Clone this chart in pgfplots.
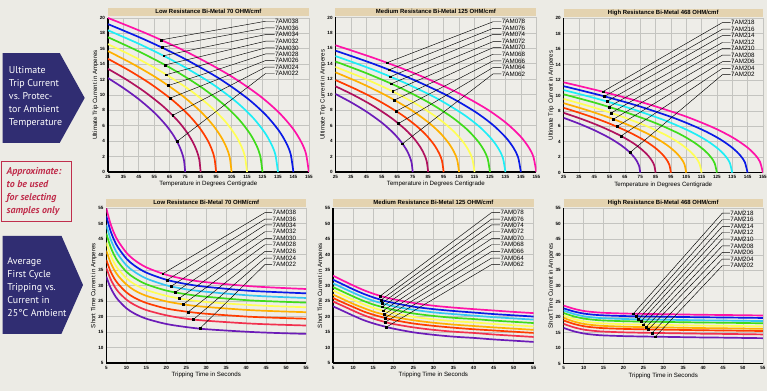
\documentclass[border=0pt]{standalone}
\usepackage{pgfplots}
\pgfplotsset{compat=1.18}
\usepackage{pgfplotstable}
\usepackage{fontspec}
\setmainfont{Liberation Sans}
\newfontfamily\ptsans{PT Sans}
\definecolor{bg}{HTML}{ECEBE5}
\definecolor{plotbg}{HTML}{EEEDE8}
\definecolor{gridc}{HTML}{C4C4C0}
\definecolor{titlebar}{HTML}{E4D3B0}
\definecolor{navy}{HTML}{302D72}
\definecolor{crim}{HTML}{C02E4C}
\definecolor{cM}{HTML}{FF12A8}
\definecolor{cB}{HTML}{0A1AE6}
\definecolor{cC}{HTML}{1EEEF6}
\definecolor{cCb}{HTML}{36C6F2}
\definecolor{cG}{HTML}{3EDC1A}
\definecolor{cY}{HTML}{FFFF55}
\definecolor{cO}{HTML}{FFB000}
\definecolor{cR}{HTML}{FF3C00}
\definecolor{cMr}{HTML}{B0125E}
\definecolor{cMrb}{HTML}{F2304E}
\definecolor{cP}{HTML}{6C1CB8}

\pgfplotstableread{
tP iP tMr iMr tR iR tO iO tY iY tG iG tC iC tB iB tM iM
25 12.2 25 13.4 25 14.7 25 15.7 25 16.6 25 17.5 25 18.4 25 19.2 25 20.0
35 10.91 37 11.99 39 13.15 41 14.04 43 14.85 45 15.65 47 16.46 49 17.17 51 17.89
45 9.45 49 10.38 53 11.39 57 12.16 61 12.86 65 13.56 69 14.25 73 14.87 77 15.49
55 7.72 61 8.48 67 9.30 73 9.93 79 10.50 85 11.07 91 11.64 97 12.14 103 12.65
62.5 6.10 70 6.70 77.5 7.35 85 7.85 92.5 8.30 100 8.75 107.5 9.20 115 9.60 122.5 10.0
67.5 4.73 76 5.19 84.5 5.69 93 6.08 101.5 6.43 110 6.78 118.5 7.13 127 7.44 135.5 7.75
71 3.45 80.2 3.79 89.4 4.16 98.6 4.44 107.8 4.69 117 4.95 126.2 5.20 135.4 5.43 144.6 5.66
73 2.44 82.6 2.68 92.2 2.94 101.8 3.14 111.4 3.32 121 3.50 130.6 3.68 140.2 3.84 149.8 4.00
74.25 1.49 84.1 1.64 93.95 1.80 103.8 1.92 113.65 2.03 123.5 2.14 133.35 2.25 143.2 2.35 153.05 2.45
75 0 85 0 95 0 105 0 115 0 125 0 135 0 145 0 155 0
}\TL
\pgfplotstableread{
tP iP tMr iMr tR iR tO iO tY iY tG iG tC iC tB iB tM iM
25 10.1 25 11.1 25 11.9 25 12.9 25 13.6 25 14.3 25 15.0 25 15.7 25 16.4
35 9.03 37 9.93 39 10.64 41 11.54 43 12.16 45 12.79 47 13.42 49 14.04 51 14.67
45 7.82 49 8.60 53 9.22 57 9.99 61 10.53 65 11.08 69 11.62 73 12.16 77 12.70
55 6.39 61 7.02 67 7.53 73 8.16 79 8.60 85 9.04 91 9.49 97 9.93 103 10.37
62.5 5.05 70 5.55 77.5 5.95 85 6.45 92.5 6.80 100 7.15 107.5 7.50 115 7.85 122.5 8.20
67.5 3.91 76 4.30 84.5 4.61 93 5.00 101.5 5.27 110 5.54 118.5 5.81 127 6.08 135.5 6.35
71 2.86 80.2 3.14 89.4 3.37 98.6 3.65 107.8 3.85 117 4.04 126.2 4.24 135.4 4.44 144.6 4.64
73 2.02 82.6 2.22 92.2 2.38 101.8 2.58 111.4 2.72 121 2.86 130.6 3.00 140.2 3.14 149.8 3.28
74.25 1.24 84.1 1.36 93.95 1.46 103.8 1.58 113.65 1.67 123.5 1.75 133.35 1.84 143.2 1.92 153.05 2.01
75 0 85 0 95 0 105 0 115 0 125 0 135 0 145 0 155 0
}\TM
\pgfplotstableread{
tP iP tMr iMr tR iR tO iO tY iY tG iG tC iC tB iB tM iM
25 7.1 25 7.75 25 8.4 25 9.0 25 9.55 25 10.15 25 10.7 25 11.2 25 11.7
35 6.35 37 6.93 39 7.51 41 8.05 43 8.54 45 9.08 47 9.57 49 10.02 51 10.46
45 5.50 49 6.00 53 6.51 57 6.97 61 7.40 65 7.86 69 8.29 73 8.68 77 9.06
55 4.49 61 4.90 67 5.31 73 5.69 79 6.04 85 6.42 91 6.77 97 7.08 103 7.40
62.5 3.55 70 3.88 77.5 4.20 85 4.50 92.5 4.78 100 5.08 107.5 5.35 115 5.60 122.5 5.85
67.5 2.75 76 3.00 84.5 3.25 93 3.49 101.5 3.70 110 3.93 118.5 4.14 127 4.34 135.5 4.53
71 2.01 80.2 2.19 89.4 2.38 98.6 2.55 107.8 2.70 117 2.87 126.2 3.03 135.4 3.17 144.6 3.31
73 1.42 82.6 1.55 92.2 1.68 101.8 1.80 111.4 1.91 121 2.03 130.6 2.14 140.2 2.24 149.8 2.34
74.25 0.87 84.1 0.95 93.95 1.03 103.8 1.10 113.65 1.17 123.5 1.24 133.35 1.31 143.2 1.37 153.05 1.43
75 0 85 0 95 0 105 0 115 0 125 0 135 0 145 0 155 0
}\TR
\pgfplotstableread{
t M B C G Y O R Mr P
5 55.0 52.5 49.6 46.8 43.9 41.3 38.3 35.7 32.9
6 50.2 47.9 45.3 42.7 40.1 37.65 34.8 32.3 29.5
7 46.8 44.6 42.2 39.8 37.3 35.05 32.3 29.85 27.1
8 44.3 42.2 39.9 37.6 35.3 33.1 30.5 28.0 25.3
10 40.7 38.75 36.6 34.5 32.4 30.4 27.85 25.5 22.7
12 38.3 36.5 34.5 32.5 30.5 28.5 26.1 23.8 21.0
15 35.9 34.2 32.3 30.45 28.6 26.7 24.4 22.1 19.3
20 33.5 31.9 30.1 28.4 26.7 24.9 22.6 20.4 17.6
25 32.0 30.5 28.8 27.2 25.5 23.8 21.6 19.3 16.6
30 31.1 29.6 28.0 26.4 24.7 23.1 20.9 18.65 15.9
40 29.9 28.4 26.9 25.3 23.8 22.15 20.0 17.8 15.1
47 29.36 27.93 26.4 24.88 23.36 21.74 19.62 17.42 14.71
55 28.9 27.5 26.0 24.5 23.0 21.4 19.3 17.1 14.4
}\BL
\pgfplotstableread{
t M B C G Y O R Mr P
5 33.2 31.9 30.75 29.5 28.4 27.1 26.0 24.85 23.3
7.5 31.6 30.35 29.2 28.0 26.9 25.6 24.5 23.4 21.8
10 30.05 28.8 27.7 26.5 25.4 24.1 23.1 21.9 20.3
12.5 28.6 27.4 26.3 25.1 24.0 22.8 21.7 20.5 18.9
15 27.4 26.2 25.1 23.9 22.8 21.6 20.6 19.35 17.8
17.5 26.4 25.2 24.2 23.0 21.9 20.7 19.7 18.4 16.9
20 25.6 24.4 23.35 22.2 21.1 19.9 18.9 17.6 16.1
25 24.4 23.2 22.2 21.0 19.9 18.8 17.75 16.5 14.9
30 23.5 22.4 21.35 20.2 19.1 18.0 17.0 15.7 14.1
35 22.9 21.8 20.8 19.6 18.5 17.4 16.4 15.1 13.5
40 22.4 21.3 20.3 19.2 18.1 16.95 15.9 14.7 13.1
45 21.95 20.8 19.8 18.7 17.6 16.5 15.5 14.2 12.6
50 21.5 20.4 19.4 18.3 17.2 16.1 15.1 13.8 12.2
55 21.1 20.0 19.0 17.9 16.8 15.7 14.7 13.4 11.8
}\BM
\pgfplotstableread{
t M B C G Y O R Mr P
5 23.7 22.8 22.1 21.3 20.5 19.7 18.9 17.8 16.5
7.5 22.68 21.81 21.01 20.24 19.38 18.58 17.81 16.71 15.44
10 21.97 21.13 20.26 19.52 18.61 17.81 17.06 15.96 14.72
12.5 21.59 20.75 19.86 19.12 18.19 17.39 16.66 15.56 14.32
15 21.36 20.54 19.62 18.89 17.95 17.15 16.42 15.32 14.09
20 21.14 20.32 19.38 18.66 17.7 16.9 16.18 15.08 13.86
25 21.01 20.2 19.24 18.53 17.56 16.76 16.04 14.94 13.73
30 20.92 20.1 19.14 18.43 17.46 16.66 15.94 14.84 13.63
35 20.82 20.01 19.04 18.33 17.35 16.55 15.84 14.74 13.53
40 20.72 19.92 18.94 18.23 17.25 16.45 15.74 14.64 13.43
45 20.66 19.86 18.87 18.17 17.18 16.38 15.67 14.57 13.37
50 20.58 19.78 18.79 18.08 17.09 16.29 15.59 14.49 13.28
55 20.5 19.7 18.7 18.0 17.0 16.2 15.5 14.4 13.2
}\BR

\tikzset{lbl/.style={anchor=west, inner sep=0.3bp, font=\fontsize{6.3}{7}\selectfont}}
\pgfplotsset{
 panel/.style={
   scale only axis, anchor=south west,
   axis background/.style={fill=plotbg},
   axis x line*=bottom, axis y line*=left,
   axis line style={black, line width=1.2bp},
   grid=major, major grid style={gridc, line width=0.7bp},
   major tick length=0pt,
   /pgf/number format/assume math mode=true,
   tick label style={font=\fontsize{4.6}{5}\selectfont\bfseries},
   xticklabel style={yshift=0.6bp},
   yticklabel style={xshift=0.6bp},
   every axis x label/.style={at={(rel axis cs:0.5,0)}, yshift=-12bp, anchor=center, font=\fontsize{6.2}{7}\selectfont},
   every axis y label/.style={at={(rel axis cs:0,0.5)}, xshift=-12.5bp, rotate=90, anchor=center, font=\fontsize{6.2}{7}\selectfont},
   every axis title/.style={at={(rel axis cs:0.5,1)}, anchor=south, yshift=1.5bp, fill=titlebar, minimum height=8bp, inner sep=0pt, text height=4.4bp, text depth=0.9bp, font=\fontsize{6}{6}\selectfont\bfseries},
 },
 curve/.style={line width=1.7bp, smooth, no marks},
 leadl/.style={black, line width=0.45bp, sharp plot, no marks},
 toprow/.style={panel, xmin=25, xmax=155, ymin=0, ymax=20, xtick={25,35,...,155}, ytick={0,2,...,20}, xlabel={Temperature in Degrees Centigrade}, ylabel={Ultimate Trip Current in Amperes}},
 botrow/.style={panel, xmin=5, xmax=55, ymin=5, ymax=55, xtick={5,10,...,55}, ytick={5,10,...,55}, xlabel={Tripping Time in Seconds}, ylabel={Short Time Current in Amperes}},
}
\newcommand\topcurves[1]{%
 \addplot[curve,cP] table[x=tP,y=iP]{#1};
 \addplot[curve,cMr] table[x=tMr,y=iMr]{#1};
 \addplot[curve,cR] table[x=tR,y=iR]{#1};
 \addplot[curve,cO] table[x=tO,y=iO]{#1};
 \addplot[curve,cY] table[x=tY,y=iY]{#1};
 \addplot[curve,cG] table[x=tG,y=iG]{#1};
 \addplot[curve,cC] table[x=tC,y=iC]{#1};
 \addplot[curve,cB] table[x=tB,y=iB]{#1};
 \addplot[curve,cM] table[x=tM,y=iM]{#1};
}
\newcommand\botcurves[1]{%
 \addplot[curve,cP] table[x=t,y=P]{#1};
 \addplot[curve,cMrb] table[x=t,y=Mr]{#1};
 \addplot[curve,cR] table[x=t,y=R]{#1};
 \addplot[curve,cO] table[x=t,y=O]{#1};
 \addplot[curve,cY] table[x=t,y=Y]{#1};
 \addplot[curve,cG] table[x=t,y=G]{#1};
 \addplot[curve,cCb] table[x=t,y=C]{#1};
 \addplot[curve,cB] table[x=t,y=B]{#1};
 \addplot[curve,cM] table[x=t,y=M]{#1};
}
% dot x, dot y, stub start x, label y, stub end x, label
\newcommand\lead[6]{%
 \addplot[leadl] coordinates {(#1,#2) (#3,#4) (#5,#4)};
 \addplot[only marks, mark=square*, mark size=0.9bp, black] coordinates {(#1,#2)};
 \node[lbl] at (axis cs:#5,#4) {#6};
}

\begin{document}
\begin{tikzpicture}
\fill[bg] (0bp,0bp) rectangle (770bp,392bp);
% left panels
\fill[navy] (2.7bp,338.7bp) -- (60bp,338.7bp) -- (85bp,293.7bp) -- (60bp,248.7bp) -- (2.7bp,248.7bp) -- cycle;
\node[anchor=west, align=left, text=white, font=\ptsans\fontsize{10}{13.1}\selectfont, inner sep=0pt] at (8.8bp,294.5bp) {Ultimate\\Trip Current\\vs.\ Protec-\\tor Ambient\\Temperature};
\draw[crim, line width=1bp, fill=bg] (1.7bp,230.3bp) rectangle (71.7bp,170bp);
\node[anchor=west, align=left, text=crim, font=\ptsans\bfseries\itshape\fontsize{10}{13.1}\selectfont, inner sep=0pt] at (6.5bp,199.6bp) {Approximate:\\to be used\\for selecting\\samples only};
\fill[navy] (2.7bp,155.3bp) -- (61.7bp,155.3bp) -- (83.3bp,106bp) -- (61.7bp,57bp) -- (2.7bp,57bp) -- cycle;
\node[anchor=west, align=left, text=white, font=\ptsans\fontsize{10}{13.1}\selectfont, inner sep=0pt] at (7.3bp,104bp) {Average\\First Cycle\\Tripping vs.\\Current in\\25°C Ambient};

% ---------- top left
\begin{axis}[toprow, at={(108.3bp,219.3bp)}, width=201.7bp, height=154.7bp,
  title={Low Resistance Bi-Metal 70 OHM/cmf}, title style={minimum width=201.7bp}]
\topcurves{\TL}
\lead{59.4}{17.15}{127}{19.57}{132.9}{7AM038}
\lead{60.0}{16.2}{127}{18.70}{132.9}{7AM036}
\lead{61.1}{15.1}{127}{17.84}{132.9}{7AM034}
\lead{61.9}{13.9}{127}{16.98}{132.9}{7AM032}
\lead{62.8}{12.64}{127}{16.11}{132.9}{7AM030}
\lead{64.1}{11.23}{127}{15.33}{132.9}{7AM028}
\lead{65.2}{9.59}{127}{14.47}{132.9}{7AM026}
\lead{66.9}{7.36}{127}{13.61}{132.9}{7AM024}
\lead{69.7}{3.97}{127}{12.79}{132.9}{7AM022}
\end{axis}
% ---------- top middle
\begin{axis}[toprow, at={(336.7bp,219.3bp)}, width=201.6bp, height=155.2bp,
  title={Medium Resistance Bi-Metal 125 OHM/cmf}, title style={minimum width=201.6bp}]
\topcurves{\TM}
\lead{58.3}{14.14}{127}{19.44}{132.4}{7AM078}
\lead{59.8}{13.23}{127}{18.58}{132.4}{7AM076}
\lead{60.5}{12.34}{127}{17.81}{132.4}{7AM074}
\lead{61.1}{11.43}{127}{16.87}{132.4}{7AM072}
\lead{62.0}{10.44}{127}{16.09}{132.4}{7AM070}
\lead{63.2}{9.32}{127}{15.24}{132.4}{7AM068}
\lead{64.3}{7.88}{127}{14.38}{132.4}{7AM066}
\lead{65.8}{6.28}{127}{13.52}{132.4}{7AM064}
\lead{68.4}{3.67}{127}{12.70}{132.4}{7AM062}
\end{axis}
% ---------- top right
\begin{axis}[toprow, at={(565.7bp,218.7bp)}, width=200bp, height=155bp,
  title={High Resistance Bi-Metal 468 OHM/cmf}, title style={minimum width=200bp}]
\topcurves{\TR}
\lead{50.6}{10.49}{128.6}{19.44}{134}{7AM218}
\lead{51.65}{9.88}{128.6}{18.58}{134}{7AM216}
\lead{53.2}{9.23}{128.6}{17.76}{134}{7AM214}
\lead{54.5}{8.52}{128.6}{16.86}{134}{7AM212}
\lead{56.0}{7.73}{128.6}{16.09}{134}{7AM210}
\lead{57.5}{6.93}{128.6}{15.23}{134}{7AM208}
\lead{59.7}{5.97}{128.6}{14.37}{134}{7AM206}
\lead{62.5}{4.75}{128.6}{13.51}{134}{7AM204}
\lead{68.3}{2.60}{128.6}{12.69}{134}{7AM202}
\end{axis}
% ---------- bottom left
\begin{axis}[botrow, at={(106.7bp,27.7bp)}, width=200.6bp, height=155.3bp,
  title={Low Resistance Bi-Metal 70 OHM/cmf}, title style={minimum width=200.6bp}]
\botcurves{\BL}
\lead{19.1}{33.82}{44.7}{53.6}{46.5}{7AM038}
\lead{20.2}{31.81}{44.7}{51.5}{46.5}{7AM036}
\lead{21.2}{29.76}{44.7}{49.6}{46.5}{7AM034}
\lead{22.2}{27.79}{44.7}{47.4}{46.5}{7AM032}
\lead{23.2}{25.86}{44.7}{45.2}{46.5}{7AM030}
\lead{24.2}{23.93}{44.7}{43.2}{46.5}{7AM028}
\lead{25.5}{21.5}{44.7}{41.05}{46.5}{7AM026}
\lead{26.8}{19.06}{44.7}{38.9}{46.5}{7AM024}
\lead{28.4}{16.13}{44.7}{36.8}{46.5}{7AM022}
\end{axis}
% ---------- bottom middle
\begin{axis}[botrow, at={(334.3bp,27.7bp)}, width=201.4bp, height=155.3bp,
  title={Medium Resistance Bi-Metal 125 OHM/cmf}, title style={minimum width=201.4bp}]
\botcurves{\BM}
\lead{16.8}{26.7}{44.5}{53.6}{46.6}{7AM078}
\lead{17.0}{25.4}{44.5}{51.5}{46.6}{7AM076}
\lead{17.2}{24.35}{44.5}{49.6}{46.6}{7AM074}
\lead{17.3}{23.2}{44.5}{47.4}{46.6}{7AM072}
\lead{17.5}{21.9}{44.5}{45.2}{46.6}{7AM070}
\lead{17.7}{20.65}{44.5}{43.2}{46.6}{7AM068}
\lead{17.9}{19.55}{44.5}{41.05}{46.6}{7AM066}
\lead{18.0}{18.2}{44.5}{38.9}{46.6}{7AM064}
\lead{18.3}{16.6}{44.5}{36.8}{46.6}{7AM062}
\end{axis}
% ---------- bottom right
\begin{axis}[botrow, at={(565.7bp,27bp)}, width=200bp, height=156bp,
  title={High Resistance Bi-Metal 468 OHM/cmf}, title style={minimum width=200bp}]
\botcurves{\BR}
\lead{22.5}{21.07}{44.8}{53.4}{46.7}{7AM218}
\lead{23.2}{20.24}{44.8}{51.3}{46.7}{7AM216}
\lead{23.8}{19.28}{44.8}{49.1}{46.7}{7AM214}
\lead{24.4}{18.55}{44.8}{47.2}{46.7}{7AM212}
\lead{25.0}{17.56}{44.8}{45.1}{46.7}{7AM210}
\lead{25.7}{16.75}{44.8}{42.9}{46.7}{7AM208}
\lead{26.3}{16.01}{44.8}{40.8}{46.7}{7AM206}
\lead{27.2}{14.9}{44.8}{38.65}{46.7}{7AM204}
\lead{28.0}{13.67}{44.8}{36.5}{46.7}{7AM202}
\end{axis}
\end{tikzpicture}
\end{document}
